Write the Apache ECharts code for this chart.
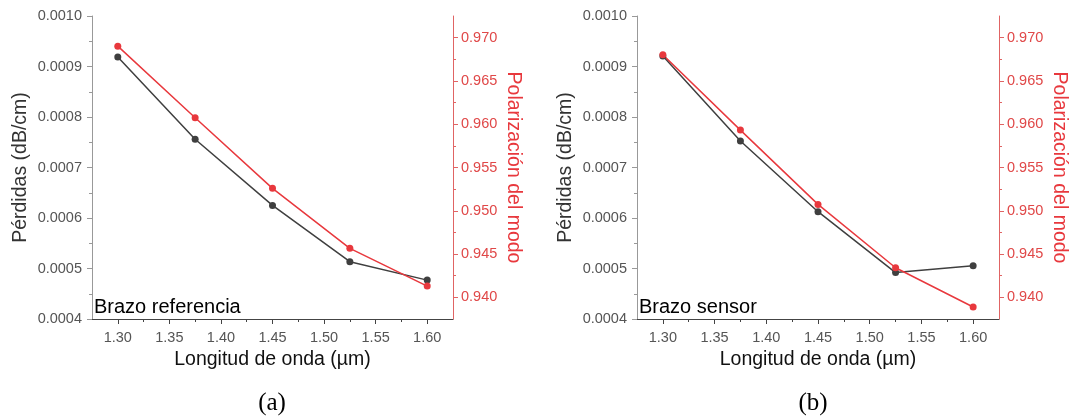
<!DOCTYPE html>
<html>
<head>
<meta charset="utf-8">
<script src="https://cdn.jsdelivr.net/npm/echarts@6/dist/echarts.min.js"></script>
<style>
  html, body { margin: 0; padding: 0; background: #fff; }
  #chart { width: 1070px; height: 417px; }
</style>
</head>
<body>
<div id="chart"></div>
<script>
// wavelength (µm)
var wavelengths = [1.300, 1.375, 1.450, 1.525, 1.600]
// (a) Brazo referencia
var perdidasRef = [0.000919, 0.000756, 0.000625, 0.0005135, 0.000477]
var polarRef = [0.96902, 0.96075, 0.95259, 0.94566, 0.94130]
// (b) Brazo sensor
var perdidasSen = [0.000921, 0.0007525, 0.0006125, 0.000492, 0.0005056]
var polarSen = [0.96802, 0.95932, 0.95074, 0.94342, 0.93889]

var xTicks = [1.30, 1.35, 1.40, 1.45, 1.50, 1.55, 1.60]
var xMinor = [1.325, 1.375, 1.425, 1.475, 1.525, 1.575]
var polTicks = [0.940, 0.945, 0.950, 0.955, 0.960, 0.965, 0.970]
var polMinor = [0.9425, 0.9475, 0.9525, 0.9575, 0.9625, 0.9675]

var FONT = 'Liberation Sans'
var GRAY = '#333'
var RED = '#e8383d'
var DARK = '#3f3f3f'

function pairs(xs, ys) {
  return xs.map(function (x, i) { return [x, ys[i]] })
}

function xAxes(g) {
  return [{
    type: 'value', gridIndex: g, min: 1.275, max: 1.625,
    name: 'Longitud de onda (µm)', nameLocation: 'middle', nameGap: 29,
    nameTextStyle: { fontFamily: FONT, fontSize: 19.5, color: '#111' },
    axisLine: { lineStyle: { color: '#444', width: 1 } },
    axisTick: { show: true, inside: false, length: 5, customValues: xTicks, lineStyle: { color: '#444' } },
    axisLabel: {
      customValues: xTicks, margin: 11, color: '#555', fontFamily: FONT, fontSize: 14.5,
      formatter: function (v) { return v.toFixed(2) }
    },
    splitLine: { show: false }
  }, {
    type: 'value', gridIndex: g, min: 1.275, max: 1.625, position: 'bottom',
    axisLine: { show: false },
    axisTick: { show: true, length: 3, customValues: xMinor, lineStyle: { color: '#444' } },
    axisLabel: { show: false },
    splitLine: { show: false }
  }]
}

function yAxes(g) {
  return [{
    type: 'value', gridIndex: g, position: 'left', min: 0.0004, max: 0.0010, interval: 0.0001,
    name: 'Pérdidas (dB/cm)', nameLocation: 'middle', nameGap: 61,
    nameTextStyle: { fontFamily: FONT, fontSize: 19.5, color: GRAY },
    axisLine: { show: true, lineStyle: { color: '#999', width: 1 } },
    axisTick: { show: true, length: 5, lineStyle: { color: '#999' } },
    minorTick: { show: true, splitNumber: 2, length: 3, lineStyle: { color: '#999' } },
    axisLabel: {
      margin: 10, color: '#555', fontFamily: FONT, fontSize: 14.5,
      formatter: function (v) { return v.toFixed(4) }
    },
    splitLine: { show: false }
  }, {
    type: 'value', gridIndex: g, position: 'right', min: 0.9375, max: 0.9725,
    name: 'Polarización del modo', nameLocation: 'middle', nameGap: 50, nameRotate: -90,
    nameTextStyle: { fontFamily: FONT, fontSize: 19.5, color: RED },
    axisLine: { show: true, lineStyle: { color: '#e06464', width: 1 } },
    axisTick: { show: true, length: 5, customValues: polTicks, lineStyle: { color: '#e06464' } },
    axisLabel: {
      customValues: polTicks, margin: 8, color: '#e04848', fontFamily: FONT, fontSize: 14.5,
      formatter: function (v) { return v.toFixed(3) }
    },
    splitLine: { show: false }
  }, {
    type: 'value', gridIndex: g, position: 'right', min: 0.9375, max: 0.9725,
    axisLine: { show: false },
    axisTick: { show: true, length: 3, customValues: polMinor, lineStyle: { color: '#e06464' } },
    axisLabel: { show: false },
    splitLine: { show: false }
  }]
}

function lineSeries(xi, yi, data, color) {
  return {
    type: 'line', xAxisIndex: xi, yAxisIndex: yi, data: data,
    symbol: 'circle', symbolSize: 7, animation: false,
    lineStyle: { color: color, width: 1.5 },
    itemStyle: { color: color }
  }
}

var chart = echarts.init(document.getElementById('chart'))
chart.setOption({
  backgroundColor: '#fff',
  animation: false,
  grid: [
    { left: 92, right: 617, top: 16, bottom: 98 },
    { left: 637, right: 71, top: 16, bottom: 98 }
  ],
  xAxis: xAxes(0).concat(xAxes(1)),
  yAxis: yAxes(0).concat(yAxes(1)),
  series: [
    lineSeries(0, 0, pairs(wavelengths, perdidasRef), DARK),
    lineSeries(0, 1, pairs(wavelengths, polarRef), RED),
    lineSeries(2, 3, pairs(wavelengths, perdidasSen), DARK),
    lineSeries(2, 4, pairs(wavelengths, polarSen), RED)
  ],
  graphic: [
    { type: 'text', left: 94, top: 297, style: { text: 'Brazo referencia', font: '20px "Liberation Sans"', fill: '#000' } },
    { type: 'text', left: 639, top: 297, style: { text: 'Brazo sensor', font: '20px "Liberation Sans"', fill: '#000' } },
    { type: 'text', x: 272, y: 403, style: { text: '(a)', font: '25px "Liberation Serif"', fill: '#000', align: 'center', verticalAlign: 'middle' } },
    { type: 'text', x: 813, y: 403, style: { text: '(b)', font: '25px "Liberation Serif"', fill: '#000', align: 'center', verticalAlign: 'middle' } }
  ]
})
</script>
</body>
</html>
